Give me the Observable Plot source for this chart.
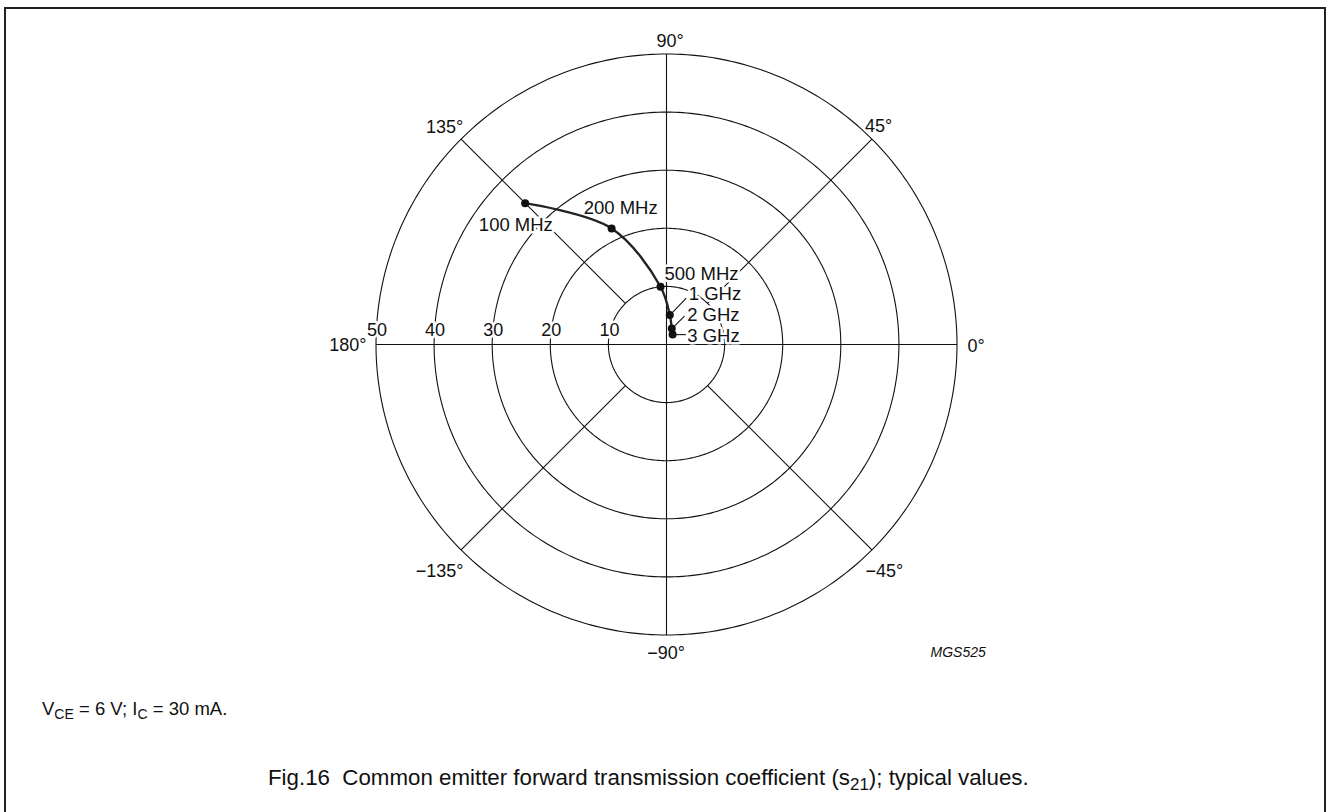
<!DOCTYPE html>
<html><head><meta charset="utf-8">
<script src="https://cdn.jsdelivr.net/npm/d3@7"></script>
<script src="https://cdn.jsdelivr.net/npm/@observablehq/plot@0.6"></script>
<style>
html,body{margin:0;padding:0;background:#fff;overflow:hidden;}
#page{position:relative;width:1326px;height:812px;overflow:hidden;font-family:"Liberation Sans",Arial,Helvetica,sans-serif;color:#111;}
#chart{position:absolute;left:0;top:0;}
#frame{position:absolute;left:4px;top:7px;width:1322px;height:900px;border-left:2px solid #222;border-top:2px solid #222;border-right:2px solid #222;box-sizing:border-box;pointer-events:none;}
.cap{position:absolute;white-space:nowrap;line-height:1;}
#cond{left:42px;top:700.3px;font-size:18.5px;}
#title{left:268px;top:767px;font-size:22.3px;}
.cap sub{font-size:0.76em;vertical-align:-0.28em;line-height:0;}
</style></head>
<body>
<div id="page">
  <div id="chart"></div>
  <div id="frame"></div>
  <div id="cond" class="cap">V<sub>CE</sub> = 6 V; I<sub>C</sub> = 30 mA.</div>
  <div id="title" class="cap">Fig.16&nbsp; Common emitter forward transmission coefficient (s<sub>21</sub>); typical values.</div>
</div>
<script>
// ---- data ----
const radii = [10, 20, 30, 40, 50];
const radiusLabels = ["10", "20", "30", "40", "50"];
const spokeAngles = [0, 45, 90, 135, 180, -135, -90, -45];
const angleLabels = ["0°", "45°", "90°", "135°", "180°", "−135°", "−90°", "−45°"];
const freqLabels = ["100 MHz", "200 MHz", "500 MHz", "1 GHz", "2 GHz", "3 GHz"];
const magnitude = [34.4, 22.1, 10.0, 5.1, 2.9, 2.0];
const phaseDeg = [135, 115.3, 95.9, 83.6, 71.7, 58.3];

// ---- layout ----
const W = 1326, H = 680, CX = 666, CY = 344, K = 5.81; // px per unit
const rad = a => a * Math.PI / 180;
const px = (r, a) => r * Math.cos(rad(a));
const py = (r, a) => r * Math.sin(rad(a));
const font = '"Liberation Sans", Arial, Helvetica, sans-serif';
const ink = "#111";

const points = freqLabels.map((f, i) => ({
  f, x: px(magnitude[i], phaseDeg[i]), y: py(magnitude[i], phaseDeg[i])
}));

const circlePts = radii.flatMap(r => d3.range(0, 361, 1).map(a => ({r, x: px(r, a), y: py(r, a)})));
const spokes = spokeAngles.map(a => ({
  a,
  x1: px(a % 90 === 0 ? 0 : 10, a), y1: py(a % 90 === 0 ? 0 : 10, a),
  x2: px(50, a), y2: py(50, a)
}));

// label placement relative to outer circle crossing (pixels)
const angleLayout = {
  "0": {anchor: "start", dx: 10.5, dy: 7.7},
  "45": {anchor: "start", dx: -7, dy: -7.5},
  "90": {anchor: "middle", dx: 3.5, dy: -7.5},
  "135": {anchor: "end", dx: 2.1, dy: -6.3},
  "180": {anchor: "end", dx: -9.5, dy: 6},
  "-135": {anchor: "end", dx: 2.4, dy: 27.3},
  "-90": {anchor: "middle", dx: -0.5, dy: 23.8},
  "-45": {anchor: "start", dx: -6.4, dy: 26.6}
};
// frequency labels relative to their dot (pixels)
const freqLayout = {
  "100 MHz": {anchor: "end", dx: 27.7, dy: 28},
  "200 MHz": {anchor: "start", dx: -28, dy: -14.4},
  "500 MHz": {anchor: "start", dx: 4, dy: -7},
  "1 GHz": {anchor: "start", dx: 19, dy: -15.4},
  "2 GHz": {anchor: "start", dx: 15.4, dy: -8},
  "3 GHz": {anchor: "start", dx: 14.7, dy: 7}
};
const leaderLayout = {
  "1 GHz": [3, -3, 16.4, -17],
  "2 GHz": [2.7, -2.3, 12.7, -12.3],
  "3 GHz": [3, 0, 13.3, 0]
};
const leaders = points.filter(p => leaderLayout[p.f]).map(p => {
  const [a, b, c, d] = leaderLayout[p.f];
  return {x1: p.x + a / K, y1: p.y - b / K, x2: p.x + c / K, y2: p.y - d / K};
});

const angleTextMarks = spokeAngles.map((a, i) => {
  const L = angleLayout[String(a)];
  return Plot.text([a], {
    x: d => px(50, d), y: d => py(50, d), text: () => angleLabels[i],
    textAnchor: L.anchor, lineAnchor: "bottom", dx: L.dx, dy: L.dy,
    fontSize: 18, fill: ink
  });
});
const freqTextMarks = points.map(p => {
  const L = freqLayout[p.f];
  return Plot.text([p], {
    x: "x", y: "y", text: "f", textAnchor: L.anchor, lineAnchor: "bottom",
    dx: L.dx, dy: L.dy, fontSize: 18.5, fill: ink,
    stroke: "white", strokeWidth: 5, strokeLinejoin: "round"
  });
});

const chart = Plot.plot({
  width: W, height: H,
  marginTop: 0, marginRight: 0, marginBottom: 0, marginLeft: 0,
  x: {domain: [-CX / K, (W - CX) / K], axis: null},
  y: {domain: [-(H - CY) / K, CY / K], axis: null},
  style: {fontFamily: font, background: "white", overflow: "visible"},
  marks: [
    Plot.line(circlePts, {x: "x", y: "y", z: "r", stroke: ink, strokeWidth: 1.1}),
    Plot.link(spokes, {x1: "x1", y1: "y1", x2: "x2", y2: "y2", stroke: ink, strokeWidth: 1.1}),
    Plot.text(radii, {
      x: d => -d, y: 0, text: (d, i) => radiusLabels[i], textAnchor: "middle",
      lineAnchor: "bottom", dx: 1, dy: -8.3, fontSize: 18, fill: ink,
      stroke: "white", strokeWidth: 5, strokeLinejoin: "round"
    }),
    ...angleTextMarks,
    ...freqTextMarks,
    Plot.link(leaders, {x1: "x1", y1: "y1", x2: "x2", y2: "y2", stroke: ink, strokeWidth: 1.1}),
    Plot.line(points, {x: "x", y: "y", curve: "catmull-rom", stroke: "#222", strokeWidth: 2.4}),
    Plot.dot(points, {x: "x", y: "y", r: 4, fill: ink, stroke: "none"}),
    Plot.text(["MGS525"], {
      frameAnchor: "top-left", text: d => d, dx: 930, dy: 656.7,
      textAnchor: "start", lineAnchor: "bottom", fontSize: 14, fontStyle: "italic", fill: ink
    })
  ]
});
document.getElementById("chart").appendChild(chart);
</script>
</body></html>
